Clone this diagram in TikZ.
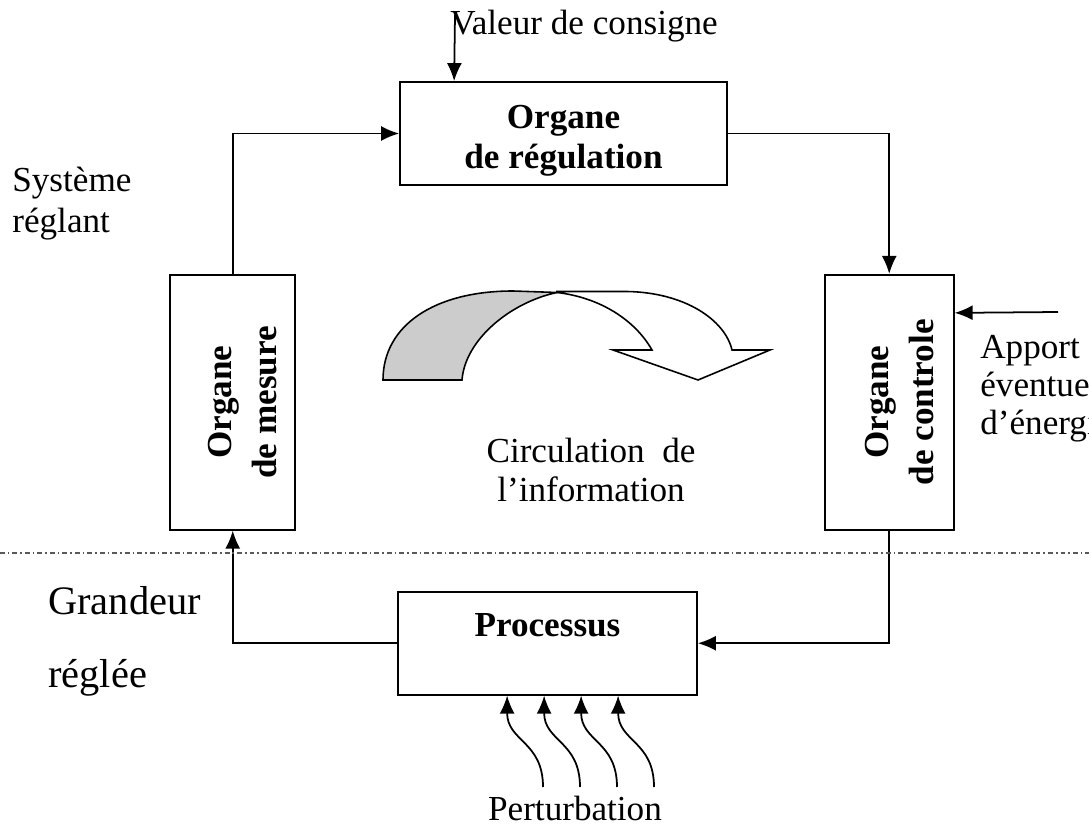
\documentclass[tikz,border=0pt]{standalone}
\usepackage{fontspec}
\setmainfont{Liberation Serif}
\usetikzlibrary{arrows.meta,positioning,calc}

\tikzset{
  box/.style={draw, line width=1pt, align=center, font=\fontsize{20}{22.5}\selectfont\bfseries},
  flow/.style={->, line width=1pt},
  >={Latex[length=3.6mm,width=3mm]}
}

\begin{document}
\begin{tikzpicture}[font=\fontsize{20}{22.5}\selectfont]
        \useasboundingbox (0,0) rectangle (21.78,-16.52);
        \clip (0,0) rectangle (21.78,-16.52);

        \node (regul) [box, minimum width=6.54cm, minimum height=2.06cm] at (11.27,-2.67) {\rule{0pt}{0.75cm}Organe\\de régulation};
        \node (mesure) [box, minimum width=2.5cm, minimum height=5.1cm, below left=1.76cm and 2.06cm of regul]
              {\rotatebox{90}{\begin{tabular}{@{}c@{}}\rule{0pt}{1.1cm}Organe\\[3pt]de mesure\end{tabular}}};
        \node (controle) [box, minimum width=2.58cm, minimum height=5.1cm, below right=1.76cm and 1.92cm of regul]
              {\rotatebox{90}{\begin{tabular}{@{}c@{}}\rule{0pt}{1.1cm}Organe\\[3pt]de controle\end{tabular}}};
        \node (proc) [box, minimum width=5.98cm, inner sep=0.2cm, text height=0.7cm, text depth=0.96cm,
              below=8.1cm of regul, xshift=-0.32cm] {Processus};

        \node (consigne) [anchor=base west, inner sep=0] at (9.0,-0.7) {Valeur de consigne};
        \node (systeme) [anchor=west, align=left, inner sep=0, font=\fontsize{20}{23.2}\selectfont] at (0.24,-4.07) {Système\\réglant};
        \node (grandeur) [anchor=base west, inner sep=0, font=\fontsize{23}{26}\selectfont] at (0.96,-12.3) {Grandeur};
        \node (reglee) [anchor=base west, inner sep=0, font=\fontsize{23}{26}\selectfont] at (0.96,-13.76) {réglée};
        \node (circ) [align=center, inner sep=0] at (11.82,-9.4) {Circulation~~de\\l’information};
        \node (apport) [anchor=north west, align=left, inner sep=0, font=\fontsize{20}{21.5}\selectfont] at (19.6,-6.7)
              {Apport\\éventuel\\d’énergie};
        \node (perturb) [inner sep=0] at (11.5,-16.16) {Perturbation};

        \coordinate (cons) at (9.1,-0.3);
        \coordinate (energie) at (21.16,-6.24);

        \draw[flow] (mesure.north) |- (regul.west);
        \draw[flow] (regul.east) -| (controle.north);
        \draw[flow] (controle.south) |- (proc.east);
        \draw[flow] (proc.west) -| (mesure.south);
        \draw[flow] (cons) -- ($(regul.north west)+(1.1,0)$);
        \draw[flow] (energie) -- ($(controle.north east)+(0,-0.78)$);

        \draw[gray!70!black, line width=0.8pt, dash pattern=on 2.8pt off 1.7pt on 0.9pt off 1.7pt] (0,-11.06) -- (21.78,-11.06);

        \foreach \i in {0,...,3} {
          \coordinate (pin\i) at (10.86+0.74*\i,-15.74);
          \draw[flow] (pin\i) to[out=90,in=-90,looseness=1.2] ($(proc.south west)+(2.2+0.74*\i,0)$);
        }

        \draw[line width=0.9pt, fill=white] (11.14,-5.83) -- (12.54,-5.83) .. controls (13.7,-5.85) and (14.5,-6.4) .. (14.64,-7.0)
              -- (15.4,-7.0) -- (13.96,-7.6) -- (12.26,-7.0) -- (13.04,-7.0)
              .. controls (12.7,-6.4) and (12.0,-5.95) .. (11.14,-5.85) -- cycle;
        \draw[line width=0.9pt, fill=gray!40] (7.66,-7.6) .. controls (7.66,-6.5) and (8.7,-5.82) .. (10.26,-5.82)
              -- (11.14,-5.85) .. controls (10.2,-6.05) and (9.3,-6.8) .. (9.24,-7.6) -- cycle;

    \end{tikzpicture}
\end{document}
